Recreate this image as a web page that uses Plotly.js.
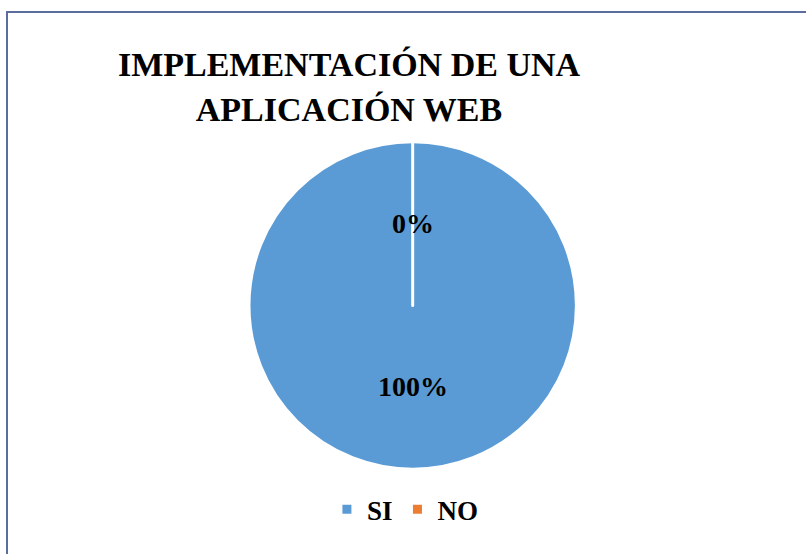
<!DOCTYPE html>
<html>
<head>
<meta charset="utf-8">
<script src="https://cdn.plot.ly/plotly-3.0.1.min.js"></script>
<style>
  body { margin: 0; background: #fff; }
  #frame { position: absolute; left: 6px; top: 11px; width: 820px; height: 560px;
           border-left: 2px solid #5b6d9c; border-top: 2px solid #5b6d9c; }
  #chart { position: absolute; left: 0; top: 0; width: 806px; height: 554px; }
</style>
</head>
<body>
<div id="frame"></div>
<div id="chart"></div>
<script>
var labels = ['SI', 'NO'];
var values = [100, 0];
var colors = ['#5B9BD5', '#ED7D31'];

var serif = '"Times New Roman", "Liberation Serif", serif';
var total = values.reduce(function (a, b) { return a + b; }, 0);
// label positions (paper coords) for each slice
var labelPos = [[0.512, 0.27], [0.512, 0.597]];

var data = [{
    type: 'pie',
    labels: labels,
    values: values,
    sort: false,
    direction: 'clockwise',
    rotation: 0,
    marker: { colors: colors, line: { color: '#fff', width: 3 } },
    textinfo: 'none',
    domain: { x: [0.308, 0.716], y: [0.153, 0.744] },
    hoverinfo: 'label+percent'
}];

var annotations = values.map(function (v, i) {
    return {
        text: '<b>' + Math.round(v / total * 100) + '%</b>',
        x: labelPos[i][0], y: labelPos[i][1],
        xref: 'paper', yref: 'paper',
        showarrow: false,
        font: { family: serif, size: 28, color: '#000' }
    };
});

var layout = {
    width: 806,
    height: 554,
    margin: { l: 0, r: 0, t: 0, b: 0 },
    paper_bgcolor: 'rgba(0,0,0,0)',
    title: {
        text: '<b>IMPLEMENTACIÓN DE UNA<br>APLICACIÓN WEB</b>',
        font: { family: serif, size: 34, color: '#000' },
        x: 0.433, xanchor: 'center',
        y: 0.862, yanchor: 'top'
    },
    annotations: annotations,
    showlegend: true,
    legend: {
        orientation: 'h',
        x: 0.503, xanchor: 'center',
        y: 0.08, yanchor: 'middle',
        font: { family: serif, size: 27, color: '#000', weight: 700 },
        itemwidth: 30
    }
};

Plotly.newPlot('chart', data, layout, { displayModeBar: false });
</script>
</body>
</html>
